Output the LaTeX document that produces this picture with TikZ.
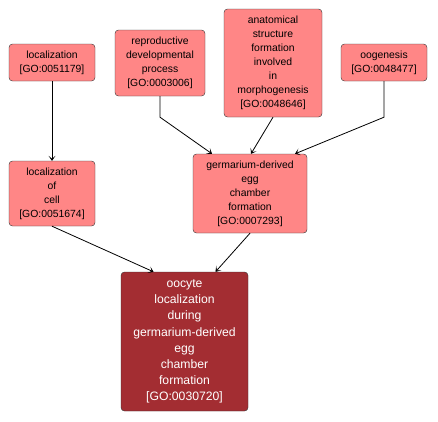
\documentclass[tikz,border=0pt]{standalone}
\usepackage{fontspec}
\setmainfont{Liberation Sans}
\usetikzlibrary{arrows.meta}
\definecolor{termpink}{RGB}{255,134,134}
\definecolor{termdark}{RGB}{163,45,50}
\begin{document}
\begin{tikzpicture}[x=1pt, y=-1pt,
    term/.style={draw=black!80, fill=termpink, rounded corners=3.5pt, align=center,
        inner sep=0pt, font=\fontsize{10.4}{14}\selectfont},
    focus/.style={term, fill=termdark, text=white, font=\fontsize{12.2}{16.2}\selectfont},
    isa/.style={-{Stealth[length=5pt, width=7pt, inset=3pt]}, black, line width=0.8pt}]
    \useasboundingbox (0,0) rectangle (438,421);

    % top row
    \node[term, minimum width=86pt, minimum height=37pt] (loc) at (52,62.5)
        {localization\\{}[GO:0051179]};
    \node[term, minimum width=90pt, minimum height=66pt] (rep) at (160,63)
        {reproductive\\developmental\\process\\{}[GO:0003006]};
    \node[term, minimum width=98pt, minimum height=108pt] (anat) at (273,63)
        {anatomical\\structure\\formation\\involved\\in\\morphogenesis\\{}[GO:0048646]};
    \node[term, minimum width=86pt, minimum height=37pt] (oog) at (384,62.5)
        {oogenesis\\{}[GO:0048477]};

    % middle row
    \node[term, minimum width=86pt, minimum height=65pt] (locc) at (52,193.5)
        {localization\\of\\cell\\{}[GO:0051674]};
    \node[term, minimum width=114pt, minimum height=79pt] (germ) at (250,193.5)
        {germarium-derived\\egg\\chamber\\formation\\{}[GO:0007293]};

    % the term itself
    \node[focus, minimum width=127pt, minimum height=139pt] (oocyte) at (184.5,341.5)
        {oocyte\\localization\\during\\germarium-derived\\egg\\chamber\\formation\\{}[GO:0030720]};

    \draw[isa] (loc) -- (locc);
    \draw[isa] (rep.south) -- ++(0,21) -- ([xshift=-38pt]germ.north);
    \draw[isa] (anat.south) -- ([xshift=1pt]germ.north);
    \draw[isa] (oog.south) -- ++(0,36) -- ([xshift=45pt]germ.north);
    \draw[isa] (locc.south) -- ([xshift=-31pt]oocyte.north);
    \draw[isa] (germ.south) -- ([xshift=31pt]oocyte.north);
\end{tikzpicture}
\end{document}
